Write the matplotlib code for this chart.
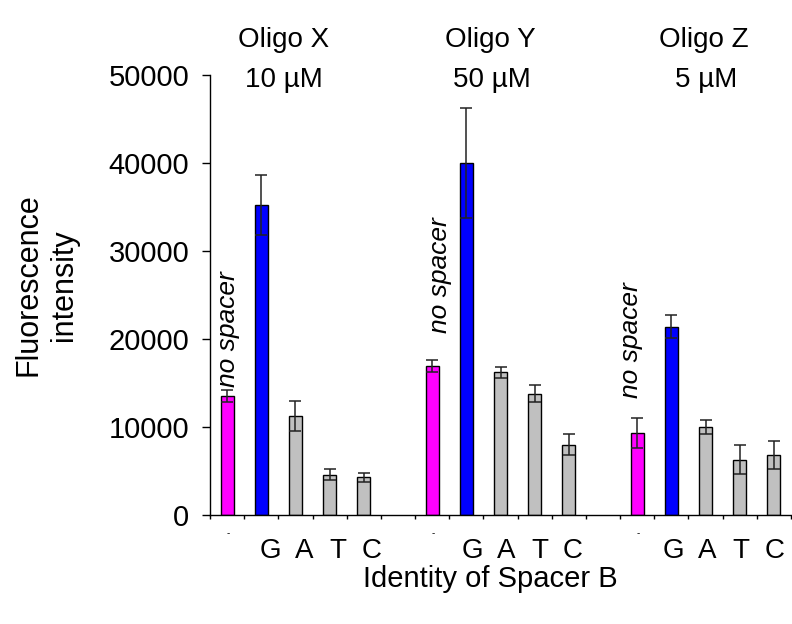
import matplotlib
matplotlib.use("Agg")
import matplotlib.pyplot as plt
import numpy as np

plt.rcParams['font.family'] = ['Liberation Sans', 'DejaVu Sans']

oligos = ['Oligo X', 'Oligo Y', 'Oligo Z']
concs = ['10 µM', '50 µM', '5 µM']
spacers = ['-', 'G', 'A', 'T', 'C']
values_x = [13500, 35200, 11300, 4600, 4300]
err_x = [650, 3400, 1700, 600, 500]
values_y = [16900, 40000, 16200, 13800, 8000]
err_y = [700, 6200, 600, 1000, 1200]
values_z = [9300, 21400, 10000, 6300, 6800]
err_z = [1700, 1300, 800, 1600, 1600]
colors = ['#FF00FF', '#0000FF', '#C0C0C0', '#C0C0C0', '#C0C0C0']
yticks = [0, 10000, 20000, 30000, 40000, 50000]

groups = [values_x, values_y, values_z]
errs = [err_x, err_y, err_z]

fig = plt.figure(figsize=(7.92, 6.24), dpi=100)
ax = fig.add_axes([210/792, 1-515/624, 581/792, 440/624])

for g, (vals, er) in enumerate(zip(groups, errs)):
    xs = np.arange(len(vals)) + 6*g
    ax.bar(xs, vals, width=0.38, color=colors, edgecolor='black', linewidth=1.0, zorder=2)
    ax.errorbar(xs, vals, yerr=er, fmt='none', ecolor='#222222', elinewidth=1.1,
                capsize=4, capthick=1.1, zorder=3)

ax.set_xlim(-0.5, 16.5)
ax.set_ylim(0, 50000)
ax.set_yticks(yticks)
ax.set_yticklabels([str(v) for v in yticks], fontsize=21)
ax.tick_params(axis='y', direction='out', length=6, width=1, pad=9)

ax.set_xticks(np.arange(-0.5, 17, 1.0))
ax.set_xticklabels([])
ax.tick_params(axis='x', which='major', direction='out', length=3, width=1)

xt = ax.get_xaxis_transform()
for g in range(3):
    for i, s in enumerate(spacers):
        cat = 6*g + i
        if s == '-':
            ax.text(cat + 0.03, -0.041, s, transform=xt, fontsize=7,
                    ha='center', va='center', clip_on=False)
        else:
            ax.text(cat + 0.30 - 0.0175*cat, -0.082, s, transform=xt, fontsize=20,
                    ha='center', va='center', clip_on=False)

for sp in ['top', 'right']:
    ax.spines[sp].set_visible(False)
for sp in ['left', 'bottom']:
    ax.spines[sp].set_linewidth(1.0)

# "no spacer" annotations
ns_px = [(228, 387), (440, 333), (631, 398)]
for (px, py) in ns_px:
    fig.text(px/792, 1-py/624, 'no spacer', rotation=90, style='italic',
             fontsize=19, ha='center', va='bottom')

# group titles
title_px = [(284, 490, 704), (284, 492, 706)]
for g in range(3):
    fig.text(title_px[0][g]/792, 1-40/624, oligos[g], fontsize=20, ha='center', va='center')
    fig.text(title_px[1][g]/792, 1-80/624, concs[g], fontsize=20, ha='center', va='center')

fig.text(46/792, 1-285/624, 'Fluorescence\nintensity', rotation=90, fontsize=22,
         ha='center', va='center', linespacing=1.25, multialignment='center')
fig.text(490/792, 1-579/624, 'Identity of Spacer B', fontsize=21, ha='center', va='center')

fig.savefig('out.png', dpi=100)
